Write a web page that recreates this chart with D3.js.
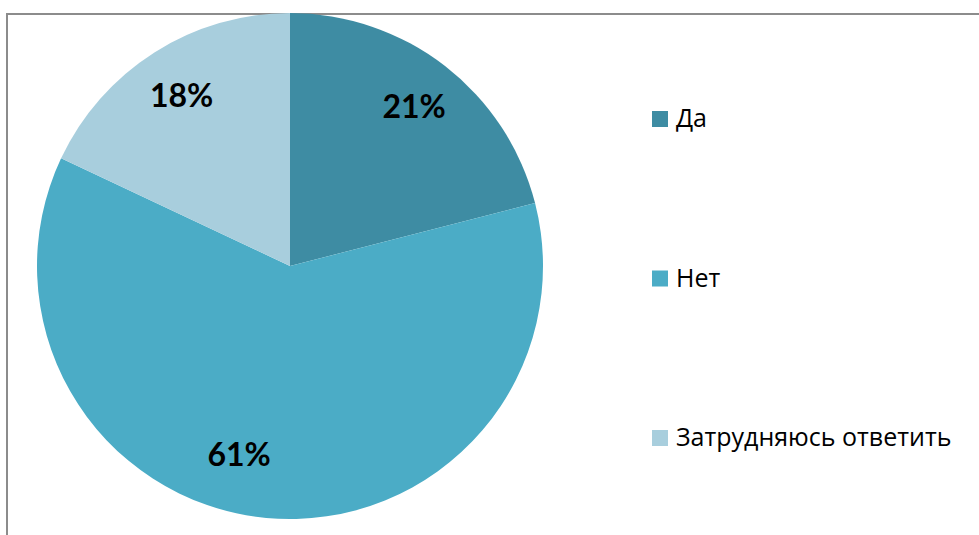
<!DOCTYPE html>
<html>
<head>
<meta charset="utf-8">
<script src="https://cdn.jsdelivr.net/npm/d3@7"></script>
<style>
  body { margin: 0; background: #fff; }
  svg { display: block; }
</style>
</head>
<body>
<svg id="chart"></svg>
<script>
// chart data
const categories = ["Да", "Нет", "Затрудняюсь ответить"];
const values = [21, 61, 18];
const colors = ["#3e8ca3", "#4bacc6", "#a8cedd"];

const width = 979, height = 535;
const cx = 290, cy = 266, radius = 253;

const svg = d3.select("#chart").attr("width", width).attr("height", height);

// chart frame (only top and left edges are visible in the window)
svg.append("rect")
  .attr("x", 7).attr("y", 14)
  .attr("width", 1000).attr("height", 600)
  .attr("fill", "none")
  .attr("stroke", "#8c8c8c")
  .attr("stroke-width", 2);

const pie = d3.pie().sort(null).value(d => d)(values);
const arc = d3.arc().innerRadius(0).outerRadius(radius);

const g = svg.append("g").attr("transform", `translate(${cx},${cy})`);

g.selectAll("path")
  .data(pie)
  .join("path")
  .attr("d", arc)
  .attr("fill", (d, i) => colors[i]);

// Excel nudges the big slice's label a bit off its centroid
const labelNudge = [0, 0.17, 0];
const labelRadius = [0.8, 0.77, 0.8];

g.selectAll("text.pct")
  .data(pie)
  .join("text")
  .attr("class", "pct")
  .attr("transform", (d, i) => {
    const a = (d.startAngle + d.endAngle) / 2 + labelNudge[i];
    const r = radius * labelRadius[i];
    return `translate(${Math.sin(a) * r},${-Math.cos(a) * r})`;
  })
  .attr("text-anchor", "middle")
  .attr("dy", "0.36em")
  .attr("font-family", "Lato, 'Open Sans', sans-serif")
  .attr("font-weight", "bold")
  .attr("font-size", 32)
  .attr("fill", "#000")
  .text(d => d.data + "%");

// legend
const legendY = d3.scalePoint().domain(categories).range([127, 446]);

const legend = svg.append("g")
  .selectAll("g")
  .data(categories)
  .join("g")
  .attr("transform", d => `translate(652,${legendY(d)})`);

legend.append("rect")
  .attr("x", 0).attr("y", -16)
  .attr("width", 16).attr("height", 16)
  .attr("fill", (d, i) => colors[i]);

legend.append("text")
  .attr("x", 24)
  .attr("y", 0)
  .attr("font-family", "'Open Sans', sans-serif")
  .attr("font-size", 25)
  .attr("fill", "#000")
  .text(d => d);
</script>
</body>
</html>
